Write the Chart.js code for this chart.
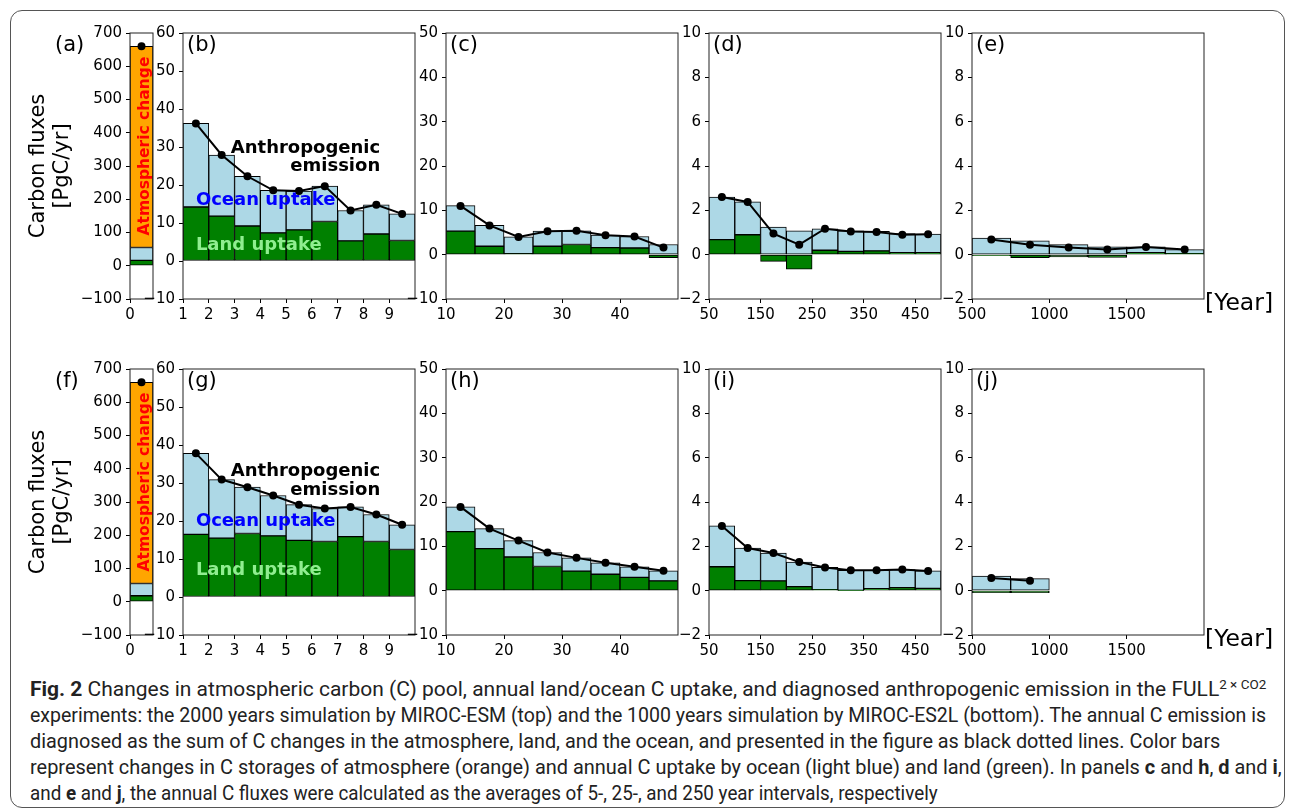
<!DOCTYPE html>
<html>
<head>
<meta charset="utf-8">
<script src="https://cdn.jsdelivr.net/npm/chart.js@4.4.0/dist/chart.umd.min.js"></script>
<style>
  body { margin: 0; background: #fff; width: 1293px; height: 808px; overflow: hidden; position: relative; }
  #frame { position: absolute; left: 10px; top: 10px; width: 1275px; height: 798px; border: 1px solid #555; border-radius: 12px; box-sizing: border-box; }
  canvas { position: absolute; }
  .cap { position: absolute; left: 30px; white-space: nowrap; font-family: 'Liberation Sans Narrow', Roboto, sans-serif; font-size: 19.5px; line-height: 24px; color: #222; transform-origin: 0 50%; }
  .cap sup { font-size: 12.5px; vertical-align: 7px; line-height: 0; }
</style>
</head>
<body>
<div id="frame"></div>

<div class="cap" data-w="1236" style="top:678px"><b>Fig. 2</b> Changes in atmospheric carbon (C) pool, annual land/ocean C uptake, and diagnosed anthropogenic emission in the FULL<sup>2 × CO2</sup></div>
<div class="cap" data-w="1236" style="top:704px">experiments: the 2000 years simulation by MIROC-ESM (top) and the 1000 years simulation by MIROC-ES2L (bottom). The annual C emission is</div>
<div class="cap" data-w="1190" style="top:730px">diagnosed as the sum of C changes in the atmosphere, land, and the ocean, and presented in the figure as black dotted lines. Color bars</div>
<div class="cap" data-w="1252" style="top:756px">represent changes in C storages of atmosphere (orange) and annual C uptake by ocean (light blue) and land (green). In panels <b>c</b> and <b>h</b>, <b>d</b> and <b>i</b>,</div>
<div class="cap" data-w="908" style="top:782px">and <b>e</b> and <b>j</b>, the annual C fluxes were calculated as the averages of 5-, 25-, and 250 year intervals, respectively</div>

<script>
// ---- MIROC-ESM (top row) ----
const yearsA = [0.5];
const landA = [16];
const oceanA = [39];
const atmA = [605];
const emisA = [660];

const yearsB = [1.5, 2.5, 3.5, 4.5, 5.5, 6.5, 7.5, 8.5, 9.5];
const landB = [14.2, 11.8, 9.2, 7.4, 8.2, 10.4, 5.3, 7.1, 5.4];
const oceanB = [22.0, 16.1, 13.1, 11.2, 10.2, 9.3, 8.0, 7.7, 7.0];
const emisB = [36.2, 27.9, 22.3, 18.6, 18.4, 19.7, 13.3, 14.8, 12.4];

const yearsC = [12.5, 17.5, 22.5, 27.5, 32.5, 37.5, 42.5, 47.5];
const landC = [5.3, 1.9, 0.2, 1.9, 2.3, 1.6, 1.5, -0.7];
const oceanC = [5.75, 4.7, 3.8, 3.4, 3.1, 2.8, 2.6, 2.3];
const emisC = [11.0, 6.6, 4.0, 5.3, 5.4, 4.4, 4.1, 1.6];

const yearsD = [75, 125, 175, 225, 275, 325, 375, 425, 475];
const landD = [0.68, 0.9, -0.3, -0.65, 0.2, 0.15, 0.17, 0.09, 0.09];
const oceanD = [1.92, 1.48, 1.25, 1.08, 0.97, 0.93, 0.88, 0.86, 0.84];
const emisD = [2.6, 2.38, 0.95, 0.45, 1.17, 1.05, 1.02, 0.9, 0.92];

const yearsE = [625, 875, 1125, 1375, 1625, 1875];
const landE = [-0.05, -0.13, -0.1, -0.12, 0.09, 0.05];
const oceanE = [0.75, 0.62, 0.45, 0.35, 0.26, 0.18];
const emisE = [0.68, 0.45, 0.32, 0.23, 0.35, 0.23];

// ---- MIROC-ES2L (bottom row) ----
const landF = [18];
const oceanF = [37];
const atmF = [605];
const emisF = [660];

const landG = [16.5, 15.5, 16.7, 16.1, 14.9, 14.6, 15.9, 14.6, 12.5];
const oceanG = [21.3, 15.4, 12.2, 10.6, 9.4, 8.7, 7.8, 7.1, 6.5];
const emisG = [37.8, 30.9, 28.9, 26.7, 24.3, 23.3, 23.7, 21.7, 19.0];

const landH = [13.3, 9.5, 7.6, 5.45, 4.4, 3.7, 3.0, 2.2];
const oceanH = [5.6, 4.5, 3.7, 3.15, 3.0, 2.6, 2.4, 2.3];
const emisH = [18.9, 14.0, 11.3, 8.6, 7.4, 6.3, 5.4, 4.5];

const landI = [1.08, 0.45, 0.44, 0.18, 0.05, 0.01, 0.09, 0.14, 0.1];
const oceanI = [1.84, 1.47, 1.26, 1.11, 1.0, 0.91, 0.83, 0.81, 0.79];
const emisI = [2.92, 1.92, 1.7, 1.29, 1.05, 0.92, 0.92, 0.95, 0.89];

const yearsJ = [625, 875];
const landJ = [-0.09, -0.09];
const oceanJ = [0.66, 0.54];
const emisJ = [0.57, 0.45];

// tick labels
const xTicksA = [0];
const xTicksB = [1, 2, 3, 4, 5, 6, 7, 8, 9];
const xTicksC = [10, 20, 30, 40];
const xTicksD = [50, 150, 250, 350, 450];
const xTicksE = [500, 1000, 1500];

Chart.defaults.font.family = "'DejaVu Sans', sans-serif";
Chart.defaults.font.size = 15;
Chart.defaults.color = '#000';

const ROW_TOP = [33, 369];
const PLOT_H = 266;
const boldFont = "bold 18px 'DejaVu Sans'";

const annot = {
  id: 'annot',
  afterDatasetsDraw(chart, args, o) {
    const { ctx, chartArea: ca, scales: { x, y } } = chart;
    ctx.save();
    ctx.strokeStyle = '#222';
    ctx.lineWidth = 1;
    ctx.strokeRect(ca.left, ca.top, ca.right - ca.left, ca.bottom - ca.top);

    ctx.fillStyle = '#000';
    ctx.textBaseline = 'middle';
    ctx.textAlign = 'left';
    ctx.font = "21px 'DejaVu Sans'";
    ctx.fillText(o.label, ca.left + o.labelDx, ca.top + 13);

    if (o.year) {
      ctx.font = "23.5px 'DejaVu Sans'";
      ctx.fillText('[Year]', ca.right + 1, ca.bottom + 5);
    }

    (o.texts || []).forEach(t => {
      ctx.font = t.font || boldFont;
      ctx.fillStyle = t.color;
      ctx.textAlign = t.align || 'left';
      const px = x.getPixelForValue(t.x), py = y.getPixelForValue(t.y);
      if (t.rotate) {
        ctx.save();
        ctx.translate(px, py);
        ctx.rotate(-Math.PI / 2);
        ctx.textAlign = 'center';
        ctx.fillText(t.text, 0, 0);
        ctx.restore();
      } else {
        ctx.fillText(t.text, px, py);
      }
    });
    ctx.restore();
  }
};

const fmt = v => (v < 0 ? '\u2212' + Math.abs(v) : String(v));

function bars(years, vals, color) {
  return {
    type: 'bar',
    data: years.map((x, i) => ({ x, y: vals[i] })),
    backgroundColor: color,
    borderColor: '#000',
    borderWidth: 1,
    borderSkipped: false,
    stack: 's',
    order: 1,
    categoryPercentage: 1,
    barPercentage: 1
  };
}

function makePanel(p) {
  const padTop = 16, xH = 34;
  const padRight = p.year ? 85 : 24;
  const W = p.yW + p.width + padRight;
  const H = padTop + PLOT_H + xH;
  const cv = document.createElement('canvas');
  cv.width = W;
  cv.height = H;
  cv.style.left = (p.left - p.yW) + 'px';
  cv.style.top = (ROW_TOP[p.row] - padTop) + 'px';
  cv.style.width = W + 'px';
  cv.style.height = H + 'px';
  document.body.appendChild(cv);

  const datasets = [
    {
      type: 'line',
      data: p.years.map((x, i) => ({ x, y: p.emis[i] })),
      borderColor: '#000',
      borderWidth: 2,
      pointRadius: 4,
      pointBackgroundColor: '#000',
      pointBorderWidth: 0,
      tension: 0,
      order: 0
    },
    bars(p.years, p.land, '#008000'),
    bars(p.years, p.ocean, '#add8e6')
  ];
  if (p.atm) datasets.push(bars(p.years, p.atm, '#ffa500'));

  new Chart(cv, {
    type: 'bar',
    data: { datasets },
    plugins: [annot],
    options: {
      responsive: false,
      animation: false,
      events: [],
      layout: { padding: { top: padTop, right: padRight, left: 0, bottom: 0 } },
      plugins: {
        legend: { display: false },
        tooltip: { enabled: false },
        annot: { label: p.label, labelDx: p.labelDx, texts: p.texts, year: p.year }
      },
      scales: {
        x: {
          type: 'linear',
          min: p.xMin,
          max: p.xMax,
          offset: false,
          afterBuildTicks: s => { s.ticks = p.xTicks.map(v => ({ value: v })); },
          afterFit: s => { s.height = xH; },
          ticks: { callback: fmt, padding: 3, maxRotation: 0, autoSkip: false },
          grid: { offset: false, drawOnChartArea: false, drawTicks: true, tickLength: 4, color: '#000' },
          border: { display: false }
        },
        y: {
          min: p.yMin,
          max: p.yMax,
          afterFit: s => { s.width = p.yW; },
          ticks: { stepSize: p.yStep, callback: fmt, padding: 4 },
          grid: { drawOnChartArea: false, drawTicks: true, tickLength: 4, color: '#000' },
          border: { display: false },
          title: {
            display: !!p.title,
            text: ['Carbon fluxes', '[PgC/yr]'],
            font: { size: 21, lineHeight: 1.15 },
            padding: { top: 6, bottom: 0 }
          }
        }
      }
    }
  });
}

const atmText = { text: 'Atmospheric change', x: 0.65, y: 360, rotate: true, color: '#ff0000', font: "bold 15.5px 'DejaVu Sans'" };

const textsB = [
  { text: 'Anthropogenic', x: 8.65, y: 29.7, align: 'right', color: '#000' },
  { text: 'emission', x: 8.65, y: 24.8, align: 'right', color: '#000' },
  { text: 'Ocean uptake', x: 1.5, y: 16.0, color: '#0000ff' },
  { text: 'Land uptake', x: 1.5, y: 4.1, color: '#90ee90' }
];
const textsG = [
  { text: 'Anthropogenic', x: 8.65, y: 33.0, align: 'right', color: '#000' },
  { text: 'emission', x: 8.65, y: 28.2, align: 'right', color: '#000' },
  { text: 'Ocean uptake', x: 1.5, y: 19.8, color: '#0000ff' },
  { text: 'Land uptake', x: 1.5, y: 7.1, color: '#90ee90' }
];

const cols = {
  a: { left: 130, width: 23, yW: 110, labelDx: -75, xMin: 0, xMax: 1, xTicks: xTicksA, yMin: -100, yMax: 700, yStep: 100, title: true },
  b: { left: 183, width: 232, yW: 60, labelDx: 4, xMin: 1, xMax: 10, xTicks: xTicksB, yMin: -10, yMax: 60, yStep: 10 },
  c: { left: 446, width: 232, yW: 60, labelDx: 4, xMin: 10, xMax: 50, xTicks: xTicksC, yMin: -10, yMax: 50, yStep: 10 },
  d: { left: 709, width: 232, yW: 60, labelDx: 4, xMin: 50, xMax: 500, xTicks: xTicksD, yMin: -2, yMax: 10, yStep: 2 },
  e: { left: 972, width: 232, yW: 60, labelDx: 4, xMin: 500, xMax: 2000, xTicks: xTicksE, yMin: -2, yMax: 10, yStep: 2, year: true }
};

const panels = [
  { ...cols.a, row: 0, label: '(a)', years: yearsA, land: landA, ocean: oceanA, atm: atmA, emis: emisA, texts: [atmText] },
  { ...cols.b, row: 0, label: '(b)', years: yearsB, land: landB, ocean: oceanB, emis: emisB, texts: textsB },
  { ...cols.c, row: 0, label: '(c)', years: yearsC, land: landC, ocean: oceanC, emis: emisC },
  { ...cols.d, row: 0, label: '(d)', years: yearsD, land: landD, ocean: oceanD, emis: emisD },
  { ...cols.e, row: 0, label: '(e)', years: yearsE, land: landE, ocean: oceanE, emis: emisE },
  { ...cols.a, row: 1, label: '(f)', years: yearsA, land: landF, ocean: oceanF, atm: atmF, emis: emisF, texts: [atmText] },
  { ...cols.b, row: 1, label: '(g)', years: yearsB, land: landG, ocean: oceanG, emis: emisG, texts: textsG },
  { ...cols.c, row: 1, label: '(h)', years: yearsC, land: landH, ocean: oceanH, emis: emisH },
  { ...cols.d, row: 1, label: '(i)', years: yearsD, land: landI, ocean: oceanI, emis: emisI },
  { ...cols.e, row: 1, label: '(j)', years: yearsJ, land: landJ, ocean: oceanJ, emis: emisJ }
];

panels.forEach(makePanel);

// squeeze each caption line to the width it has in the figure
document.querySelectorAll('.cap').forEach(el => {
  const w = el.scrollWidth;
  el.style.transform = 'scaleX(' + (+el.dataset.w / w) + ')';
});
</script>
</body>
</html>
